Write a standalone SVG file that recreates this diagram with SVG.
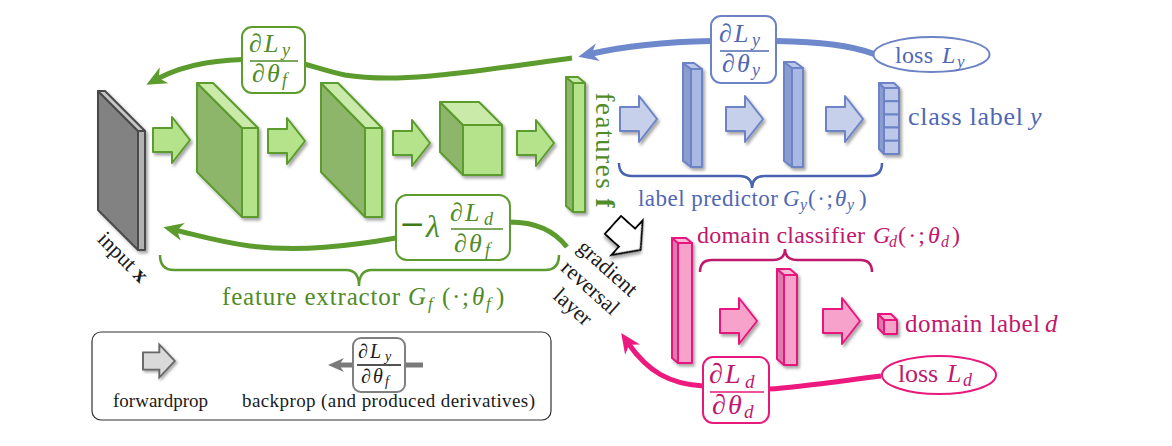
<svg xmlns="http://www.w3.org/2000/svg" width="1172" height="446" viewBox="0 0 1172 446" font-family="Liberation Serif, DejaVu Serif, serif">
<defs>
<style>
text, tspan{font-family:"Liberation Serif","DejaVu Serif",serif}
.it{font-style:italic}
.bf{font-weight:bold}
.g{stroke:#5c9b2e;stroke-width:2;stroke-linejoin:round}
.gS{fill:#8db66a}.gT{fill:#c9eaa9}.gF{fill:#b4e38b}
.k{stroke:#4a4a4a;stroke-width:2;stroke-linejoin:round}
.kS{fill:#828282}.kT{fill:#c6c6c6}.kF{fill:#b2b2b2}
.b{stroke:#6c83c6;stroke-width:2;stroke-linejoin:round}
.bS{fill:#8a9cd0}.bT{fill:#bcc7ea}.bF{fill:#aab9e3}.bA{fill:#c6d0ea}
.p{stroke:#e8197c;stroke-width:2;stroke-linejoin:round}
.pS{fill:#e07aae}.pT{fill:#f9bad8}.pF{fill:#f6a2ca}
.sh{filter:url(#sh)}
.gtx{fill:#4f8b27}.btx{fill:#5068b3}.ptx{fill:#c0186c}.ktx{fill:#1a1a1a}
.box{fill:#fff;stroke-width:2}
.bar{stroke-width:1.3}
.line{fill:none;stroke-linecap:butt}
</style>
<filter id="sh" x="-30%" y="-30%" width="170%" height="170%">
<feDropShadow dx="2" dy="2.5" stdDeviation="1.6" flood-color="#000" flood-opacity="0.35"/>
</filter>
<path id="fwd" d="M0,-12H19V-23L37,0L19,23V12H0Z"/>
<marker id="ahG" viewBox="-22 -11 24 22" refX="-12" refY="0" markerWidth="24" markerHeight="22" markerUnits="userSpaceOnUse" orient="auto"><path d="M0,0L-20,-9L-14,0L-20,9Z" fill="#5c9b2e"/></marker>
<marker id="ahB" viewBox="-22 -11 24 22" refX="-12" refY="0" markerWidth="24" markerHeight="22" markerUnits="userSpaceOnUse" orient="auto"><path d="M0,0L-20,-9L-14,0L-20,9Z" fill="#6e88cc"/></marker>
<marker id="ahP" viewBox="-22 -11 24 22" refX="-12" refY="0" markerWidth="24" markerHeight="22" markerUnits="userSpaceOnUse" orient="auto"><path d="M0,0L-20,-9L-14,0L-20,9Z" fill="#ec1a7e"/></marker>
<marker id="ahK" viewBox="-18 -9 20 18" refX="-10" refY="0" markerWidth="20" markerHeight="18" markerUnits="userSpaceOnUse" orient="auto"><path d="M0,0L-16,-7L-11,0L-16,7Z" fill="#7a7a7a"/></marker>
</defs>
<rect width="1172" height="446" fill="#fff"/>

<g id="connectors">
<path class="line" d="M572,58 C470,72 400,84 345,75 C320,70 300,60 273,59 C220,58 185,64 157,79" stroke="#5c9b2e" stroke-width="5" marker-end="url(#ahG)"/>
<path class="line" d="M874,54 C850,45 820,42 776,41 L711,41 C660,42 625,46 590,54" stroke="#6e88cc" stroke-width="6" marker-end="url(#ahB)"/>
<path class="line" d="M567,247 C552,228 532,222 510,222 L396,238 C350,246 300,252 250,246 C220,242 200,236 175,230" stroke="#5c9b2e" stroke-width="5" marker-end="url(#ahG)"/>
<path class="line" d="M881,376 C840,381 800,387 769,389 L703,386 C670,384 648,372 628,343" stroke="#ec1a7e" stroke-width="5" marker-end="url(#ahP)"/>
<path class="line" d="M423,365 L338,365" stroke="#7a7a7a" stroke-width="5" marker-end="url(#ahK)"/>
</g>

<g id="input" class="sh">
<polygon class="k kS" points="138,131 98,91 98,210 138,250"/>
<polygon class="k kT" points="138,131 98,91 105,91 145,131"/>
<rect class="k kF" x="138" y="131" width="7" height="119"/>
</g>
<text class="ktx" font-size="22" transform="translate(118,262) rotate(45)" text-anchor="middle">input <tspan class="bf">x</tspan></text>

<g id="fe-arrows" class="g gF sh">
<use href="#fwd" x="153" y="140"/>
<use href="#fwd" x="268" y="141"/>
<use href="#fwd" x="393" y="143"/>
<use href="#fwd" x="517" y="143"/>
</g>
<g id="conv1" class="sh">
<polygon class="g gS" points="242,128 197,83 197,172 242,217"/>
<polygon class="g gT" points="242,128 197,83 213,83 258,128"/>
<rect class="g gF" x="242" y="128" width="16" height="89"/>
</g>
<g id="conv2" class="sh">
<polygon class="g gS" points="365,128 321,83 321,172 365,217"/>
<polygon class="g gT" points="365,128 321,83 338,83 382,128"/>
<rect class="g gF" x="365" y="128" width="17" height="89"/>
</g>
<g id="conv3" class="sh">
<polygon class="g gS" points="463,125 440,102 440,152 463,175"/>
<polygon class="g gT" points="463,125 440,102 479,102 502,125"/>
<rect class="g gF" x="463" y="125" width="39" height="50"/>
</g>
<g id="features">
<g class="sh">
<polygon class="g gS" points="573,83 566,77 566,206 573,212"/>
<polygon class="g gT" points="573,83 566,77 578,77 585,83"/>
<rect class="g gF" x="573" y="83" width="12" height="129"/>
</g>
<text class="gtx" font-size="27" transform="translate(596,150) rotate(90)" text-anchor="middle" textLength="115">features <tspan class="bf">f</tspan></text>
</g>

<g id="fe-brace">
<path d="M160,255 Q160,270 174,270 L346,270 Q359,270 359,286 Q359,270 372,270 L545,270 Q559,270 559,255" fill="none" stroke="#5c9b2e" stroke-width="2.5"/>
<text class="gtx" font-size="25" y="305"><tspan x="222" textLength="178">feature extractor</tspan><tspan class="it" x="408">G</tspan><tspan class="it" font-size="17" x="428" dy="4">f</tspan><tspan x="442" dy="-4" textLength="27">(·;</tspan><tspan class="it" x="472">θ</tspan><tspan class="it" font-size="17" x="486" dy="4">f</tspan><tspan x="496" dy="-4">)</tspan></text>
</g>

<g id="grad-fy">
<rect class="box" x="242" y="27" width="63" height="66" rx="10" stroke="#5c9b2e"/>
<text class="gtx" font-size="26"><tspan x="249" y="52">∂</tspan><tspan class="it" x="264" y="52">L</tspan><tspan class="it" font-size="18" x="282" y="56">y</tspan><tspan x="252" y="82">∂</tspan><tspan class="it" x="267" y="82">θ</tspan><tspan class="it" font-size="18" x="282" y="86">f</tspan></text>
<line class="bar" x1="250" y1="61" x2="298" y2="61" stroke="#4f8b27"/>
</g>

<g id="grad-fd">
<rect class="box" x="396" y="195" width="114" height="65" rx="11" stroke="#5c9b2e"/>
<text fill="#3d7a1c" class="bf" font-size="34" x="400" y="236" textLength="24" lengthAdjust="spacingAndGlyphs">−</text>
<text class="gtx it" font-size="32" x="426" y="237">λ</text>
<text class="gtx" font-size="26"><tspan x="450" y="221">∂</tspan><tspan class="it" x="465" y="221">L</tspan><tspan class="it" font-size="18" x="484" y="225">d</tspan><tspan x="454" y="252">∂</tspan><tspan class="it" x="469" y="252">θ</tspan><tspan class="it" font-size="18" x="485" y="256">f</tspan></text>
<line class="bar" x1="451" y1="229" x2="503" y2="229" stroke="#4f8b27"/>
</g>

<g id="grl">
<use href="#fwd" transform="translate(613,225) rotate(42)" fill="#fff" stroke="#000" stroke-width="2" stroke-linejoin="miter" class="sh"/>
<text class="ktx" font-size="22" transform="translate(607,269) rotate(42)" text-anchor="middle"><tspan x="0" y="6">gradient</tspan><tspan x="0" dy="26">reversal</tspan><tspan x="0" dy="26">layer</tspan></text>
</g>

<g id="lp-arrows" class="b bA sh">
<use href="#fwd" x="620" y="119"/>
<use href="#fwd" x="726" y="119"/>
<use href="#fwd" x="826" y="119"/>
</g>
<g id="lp-fc1" class="sh">
<polygon class="b bS" points="691,69 683,63 683,161 691,167"/>
<polygon class="b bT" points="691,69 683,63 694,63 702,69"/>
<rect class="b bF" x="691" y="69" width="11" height="98"/>
</g>
<g id="lp-fc2" class="sh">
<polygon class="b bS" points="792,68 784,62 784,161 792,167"/>
<polygon class="b bT" points="792,68 784,62 795,62 803,68"/>
<rect class="b bF" x="792" y="68" width="11" height="99"/>
</g>
<g id="class-label">
<g class="sh">
<polygon class="b bS" points="884,88 879,83 879,149 884,154"/>
<polygon class="b bT" points="884,88 879,83 894,83 899,88"/>
<rect class="b bT" x="884" y="88" width="15" height="13.2" stroke-width="1.5"/>
<rect class="b bT" x="884" y="101.2" width="15" height="13.2" stroke-width="1.5"/>
<rect class="b bT" x="884" y="114.4" width="15" height="13.2" stroke-width="1.5"/>
<rect class="b bT" x="884" y="127.6" width="15" height="13.2" stroke-width="1.5"/>
<rect class="b bT" x="884" y="140.8" width="15" height="13.2" stroke-width="1.5"/>
</g>
<text class="btx" font-size="26" y="125"><tspan x="908" textLength="115">class label</tspan><tspan class="it" x="1030">y</tspan></text>
</g>
<g id="loss-y">
<ellipse cx="931.5" cy="54.5" rx="58" ry="17.5" fill="#fff" stroke="#6c83c6" stroke-width="2"/>
<text class="btx" font-size="24" y="63"><tspan x="895" textLength="38">loss</tspan><tspan class="it" x="942">L</tspan><tspan class="it" font-size="17" x="957" y="67">y</tspan></text>
</g>
<g id="grad-y">
<rect class="box" x="711" y="16" width="65" height="67" rx="10" stroke="#6c83c6"/>
<text class="btx" font-size="26"><tspan x="719" y="42">∂</tspan><tspan class="it" x="734" y="42">L</tspan><tspan class="it" font-size="18" x="752" y="46">y</tspan><tspan x="722" y="72">∂</tspan><tspan class="it" x="737" y="72">θ</tspan><tspan class="it" font-size="18" x="752" y="76">y</tspan></text>
<line class="bar" x1="720" y1="51" x2="769" y2="51" stroke="#5068b3"/>
</g>
<g id="lp-brace">
<path d="M619,163 Q619,176 632,176 L739,176 Q752,176 752,188 Q752,176 765,176 L869,176 Q882,176 882,163" fill="none" stroke="#4a63b0" stroke-width="2.5"/>
<text class="btx" font-size="23" y="206"><tspan x="638" textLength="140">label predictor</tspan><tspan class="it" x="783">G</tspan><tspan class="it" font-size="16" x="800" dy="4">y</tspan><tspan x="808" dy="-4" textLength="25">(·;</tspan><tspan class="it" x="835">θ</tspan><tspan class="it" font-size="16" x="847" dy="4">y</tspan><tspan x="859" dy="-4">)</tspan></text>
</g>

<g id="dc-arrows" class="p pF sh">
<use href="#fwd" x="720" y="321"/>
<use href="#fwd" x="823" y="321"/>
</g>
<g id="dc-fc1" class="sh">
<polygon class="p pS" points="678,243 672,238 672,358 678,363"/>
<polygon class="p pT" points="678,243 672,238 686,238 692,243"/>
<rect class="p pF" x="678" y="243" width="14" height="120"/>
</g>
<g id="dc-fc2" class="sh">
<polygon class="p pS" points="784,275 777,269 777,359 784,365"/>
<polygon class="p pT" points="784,275 777,269 790,269 797,275"/>
<rect class="p pF" x="784" y="275" width="13" height="90"/>
</g>
<g id="domain-label">
<g class="sh">
<polygon class="p pS" points="884,320 878,314 878,328 884,334"/>
<polygon class="p pT" points="884,320 878,314 891,314 897,320"/>
<rect class="p pF" x="884" y="320" width="13" height="14"/>
</g>
<text class="ptx" font-size="25" y="332"><tspan x="905" textLength="135">domain label</tspan><tspan class="it" x="1045">d</tspan></text>
</g>
<g id="dc-brace">
<path d="M700,272 Q700,260 712,260 L773,260 Q785,260 785,249 Q785,260 797,260 L860,260 Q872,260 872,272" fill="none" stroke="#c0186c" stroke-width="2.5"/>
<text class="ptx" font-size="24" y="243"><tspan x="697" textLength="168">domain classifier</tspan><tspan class="it" x="873">G</tspan><tspan class="it" font-size="16" x="889" dy="4">d</tspan><tspan x="898" dy="-4" textLength="27">(·;</tspan><tspan class="it" x="928">θ</tspan><tspan class="it" font-size="16" x="941" dy="4">d</tspan><tspan x="952" dy="-4">)</tspan></text>
</g>
<g id="loss-d">
<ellipse cx="939" cy="375" rx="57" ry="19" fill="#fff" stroke="#e8197c" stroke-width="2"/>
<text class="ptx" font-size="26" y="382"><tspan x="898" textLength="40">loss</tspan><tspan class="it" x="947">L</tspan><tspan class="it" font-size="18" x="963" y="386">d</tspan></text>
</g>
<g id="grad-d">
<rect class="box" x="703" y="357" width="66" height="66" rx="10" stroke="#e8197c"/>
<text class="ptx" font-size="28" fill="#e8197c"><tspan x="709" y="383">∂</tspan><tspan class="it" x="725" y="383">L</tspan><tspan class="it" font-size="19" x="745" y="388">d</tspan><tspan x="712" y="414">∂</tspan><tspan class="it" x="728" y="414">θ</tspan><tspan class="it" font-size="19" x="744" y="418">d</tspan></text>
<line class="bar" x1="710" y1="392" x2="764" y2="392" stroke="#e8197c"/>
</g>

<g id="legend">
<rect x="92" y="332" width="459" height="88" rx="9" fill="none" stroke="#333" stroke-width="1.2"/>
<use href="#fwd" transform="translate(143,361) scale(0.86,0.72)" fill="#d9d9d9" stroke="#666" stroke-width="2.2" class="sh"/>
<text class="ktx" font-size="19" x="113" y="407" textLength="95">forwardprop</text>
<rect x="353" y="338" width="52" height="54" rx="8" fill="#fff" stroke="#808080" stroke-width="2"/>
<text class="ktx" font-size="20"><tspan x="358" y="358">∂</tspan><tspan class="it" x="370" y="358">L</tspan><tspan class="it" font-size="14" x="385" y="361">y</tspan><tspan x="361" y="383">∂</tspan><tspan class="it" x="373" y="383">θ</tspan><tspan class="it" font-size="14" x="385" y="386">f</tspan></text>
<line class="bar" x1="357" y1="365" x2="401" y2="365" stroke="#1a1a1a" stroke-width="1"/>
<text class="ktx" font-size="19" x="242" y="407" textLength="293">backprop (and produced derivatives)</text>
</g>
</svg>
